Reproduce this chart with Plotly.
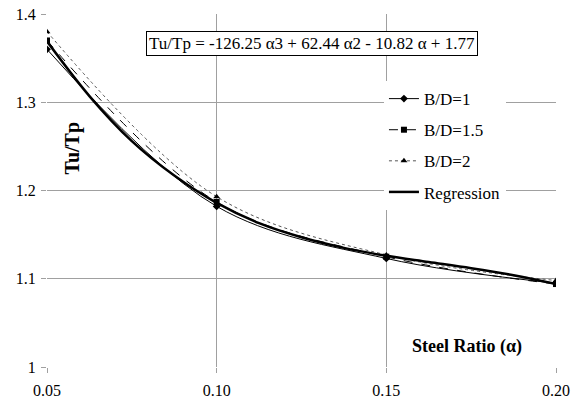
import plotly.graph_objects as go

alpha = [0.05, 0.10, 0.15, 0.20]
bd1 = [1.360, 1.182, 1.123, 1.095]
bd15 = [1.370, 1.187, 1.125, 1.094]
bd2 = [1.380, 1.193, 1.127, 1.098]

reg_alpha = [0.05, 0.0625, 0.075, 0.0875, 0.10, 0.1125, 0.125, 0.1375, 0.15, 0.1625, 0.175, 0.1875, 0.20]
reg_vals = [1.369, 1.307, 1.256, 1.217, 1.186, 1.163, 1.147, 1.135, 1.126, 1.119, 1.112, 1.104, 1.094]

FONT = "Liberation Serif"

fig = go.Figure()
fig.add_trace(go.Scatter(x=alpha, y=bd1, name="B/D=1", mode="lines+markers", legendgroup="a",
                         line=dict(color="black", width=1, shape="spline"),
                         marker=dict(symbol="diamond", size=6, color="black")))
fig.add_trace(go.Scatter(x=alpha, y=bd15, name="B/D=1.5", mode="lines+markers", legendgroup="b",
                         line=dict(color="black", width=1, dash="dash", shape="spline"),
                         marker=dict(symbol="square", size=6, color="black")))
fig.add_trace(go.Scatter(x=alpha, y=bd2, name="B/D=2", mode="lines+markers", legendgroup="c",
                         line=dict(color="#555", width=1, dash="dot", shape="spline"),
                         marker=dict(symbol="triangle-up", size=6, color="black")))
fig.add_trace(go.Scatter(x=reg_alpha, y=reg_vals, name="Regression", mode="lines", legendgroup="d",
                         line=dict(color="black", width=2.5, shape="spline")))

fig.update_layout(
    width=574, height=403,
    margin=dict(l=47, r=18, t=14, b=36),
    paper_bgcolor="white", plot_bgcolor="white",
    font=dict(family=FONT, size=16, color="black"),
    showlegend=True,
    legend=dict(x=0.662, y=0.81, xanchor="left", yanchor="top",
                bgcolor="white", borderwidth=0, font=dict(size=17, family=FONT),
                itemwidth=30, tracegroupgap=6),
    annotations=[
        dict(text="Tu/Tp = -126.25 α3 + 62.44 α2 - 10.82 α + 1.77", xref="paper", yref="paper",
             x=0.52, y=0.917, xanchor="center", yanchor="middle", showarrow=False,
             bgcolor="white", bordercolor="black",
             borderwidth=1, borderpad=2, font=dict(size=17, family=FONT)),
        dict(text="<b>Tu/Tp</b>", xref="paper", yref="paper", x=0.05, y=0.62,
             xanchor="center", yanchor="middle",
             showarrow=False, textangle=-90, font=dict(size=20, family=FONT)),
        dict(text="<b>Steel Ratio (α)</b>", xref="paper", yref="paper", x=0.825, y=0.058,
             xanchor="center", yanchor="middle",
             showarrow=False, font=dict(size=18, family=FONT)),
    ],
)
fig.update_xaxes(range=[0.05, 0.20], tickvals=[0.05, 0.10, 0.15, 0.20],
                 ticktext=["0.05", "0.10", "0.15", "0.20"],
                 showgrid=True, gridcolor="#a0a0a0", gridwidth=1, automargin=False,
                 ticks="outside", ticklen=5, tickcolor="#a0a0a0", ticklabelstandoff=4,
                 showline=False, zeroline=False, tickfont=dict(size=16, family=FONT))
fig.update_yaxes(range=[1.0, 1.4], tickvals=[1.0, 1.1, 1.2, 1.3, 1.4],
                 ticktext=["1", "1.1", "1.2", "1.3", "1.4"],
                 showgrid=True, gridcolor="#a0a0a0", gridwidth=1, automargin=False,
                 ticks="outside", ticklen=5, tickcolor="#a0a0a0", ticklabelstandoff=2,
                 showline=False, zeroline=False, tickfont=dict(size=16, family=FONT))

fig.write_html("out.html")
